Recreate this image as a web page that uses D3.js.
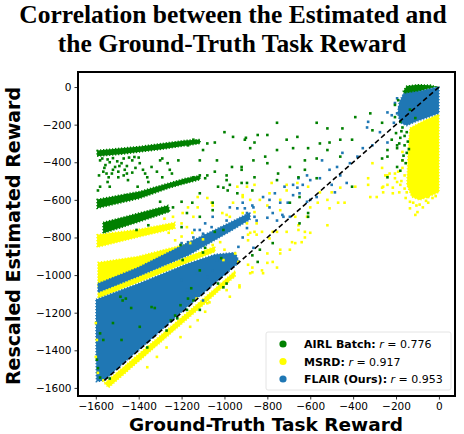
<!DOCTYPE html>
<html>
<head>
<meta charset="utf-8">
<script src="https://cdn.jsdelivr.net/npm/d3@7"></script>
<style>
  body { margin: 0; background: #fff; }
  svg { display: block; }
  .tick text { font-family: "DejaVu Sans", sans-serif; font-size: 10.5px; fill: #000; }
</style>
</head>
<body>
<svg id="chart" width="464" height="434"></svg>
<script>
// ---- data (ground-truth reward, rescaled estimated reward) ----
var seriesNames = ['AIRL Batch', 'MSRD', 'FLAIR (Ours)'];
var rValues = ['0.776', '0.917', '0.953'];
var xTicks = [-1600, -1400, -1200, -1000, -800, -600, -400, -200, 0];
var yTicks = [0, -200, -400, -600, -800, -1000, -1200, -1400, -1600];
var refLine = [[-1560, -1560], [0, 0]];

// outlines of the regions where points are packed solid
var airlDense = [
  [[-1594,-337],[-1394,-316],[-1184,-284],[-1114,-279],[-1114,-300],[-1301,-332],[-1487,-358],[-1594,-368]],
  [[-1594,-598],[-1394,-555],[-1184,-486],[-1114,-470],[-1114,-492],[-1254,-535],[-1394,-592],[-1594,-645]],
  [[-1566,-720],[-1441,-683],[-1263,-630],[-1254,-662],[-1394,-715],[-1566,-778]],
  [[-168,-25],[-150,5],[-100,12],[-40,10],[-15,2],[-60,-12],[-150,-45]]
];
var msrdDense = [
  [[-135,-218],[-65,-176],[0,-144],[0,-559],[-42,-580],[-89,-601],[-126,-585],[-149,-521],[-145,-388],[-140,-282]],
  [[-1594,-785],[-1400,-757],[-1231,-720],[-1231,-752],[-1400,-797],[-1594,-852]],
  [[-1590,-933],[-1403,-901],[-1277,-864],[-1184,-837],[-1184,-876],[-1249,-933],[-1403,-987],[-1590,-1066]],
  [[-1590,-1093],[-1403,-1007],[-1170,-901],[-1044,-848],[-1044,-876],[-1170,-933],[-1403,-1040],[-1590,-1125]],
  [[-1560,-1575],[-1300,-1322],[-1100,-1127],[-950,-977],[-950,-1005],[-1100,-1160],[-1300,-1360],[-1540,-1598]]
];
var flairDense = [
  [[-1590,-1045],[-1403,-960],[-1170,-827],[-974,-720],[-881,-667],[-881,-705],[-974,-768],[-1170,-896],[-1403,-1007],[-1590,-1092]],
  [[-1599,-1130],[-1403,-1046],[-1170,-939],[-1044,-890],[-951,-880],[-930,-931],[-1044,-1043],[-1170,-1165],[-1347,-1346],[-1487,-1484],[-1561,-1562],[-1597,-1566],[-1599,-1346]],
  [[-165,-35],[-89,-22],[-19,-3],[0,0],[0,-140],[-60,-165],[-110,-185],[-150,-205],[-180,-190],[-192,-140],[-185,-80]]
];

// scattered points
var airlPoints = [
  [-755,-190],[-570,-190],[-520,-220],[-450,-220],[-320,-140],[-390,-160],[-900,-270],[-845,-255],[-800,-255],
  [-710,-280],[-660,-265],[-610,-325],[-555,-300],[-510,-295],[-460,-280],[-405,-280],[-880,-325],[-810,-370],
  [-755,-335],[-680,-325],[-625,-390],[-570,-380],[-520,-335],[-310,-230],[-265,-190],[-240,-335],[-195,-310],
  [-920,-425],[-865,-390],[-800,-405],[-750,-460],[-695,-425],[-625,-440],[-570,-485],[-460,-370],[-405,-530],
  [-695,-615],[-650,-585],[-610,-690],[-650,-725],[-920,-510],[-860,-480],[-755,-495],
  [-205,-160],[-180,-185],[-170,-215],[-180,-270],[-160,-310],[-195,-325],[-240,-370],[-265,-380],[-220,-280],
  [-150,-240],[-150,-350],[-170,-390],[-195,-425],[-240,-480],[-190,-70],[-205,-95],[-135,-120],[-110,-165],
  [-160,-260],[-145,-290],[-175,-235],[-140,-330],[-165,-365],[-185,-300],[-200,-245],[-155,-405],[-180,-445],
  [-1000,-240],[-1045,-295],[-1080,-300],[-1145,-280],[-1170,-310],[-1100,-335],[-960,-265],[-905,-280],[-860,-295],
  [-965,-425],[-920,-440],[-1035,-390],[-1115,-390],[-1215,-390],[-1255,-440],[-1300,-390],[-1380,-440],[-1360,-480],
  [-1455,-460],[-1495,-450],[-1550,-460],[-1580,-530],[-1590,-550],[-1535,-530],[-1405,-530],[-1005,-535],[-940,-565],
  [-870,-550],[-990,-495],[-1145,-480],[-1080,-470],[-1300,-610],[-1240,-640],[-1175,-670],[-1055,-655],[-1115,-690],
  [-1355,-735],[-1410,-760],
  [-1580,-390],[-1555,-415],[-1535,-400],[-1510,-425],[-1480,-405],[-1465,-440],[-1430,-390],[-1495,-480],[-1525,-460],
  [-1415,-430],[-1395,-405],[-1450,-495],[-1370,-460],[-1340,-425],[-1315,-450],[-1290,-380],[-1265,-405],[-1355,-505],
  [-1545,-505],[-1565,-450],[-1290,-480],[-1245,-460],[-1570,-380],[-1545,-385],[-1520,-378],[-1500,-395],[-1470,-380],
  [-1445,-375],[-1420,-372],[-1560,-430],[-1520,-440],[-1490,-420],[-1455,-420],[-1430,-455],[-1400,-375],[-1585,-470],
  [-1540,-480],[-1470,-470],[-1585,-610],[-1560,-625],[-1520,-610],[-1500,-590],[-1460,-575],
  [-1475,-1135],[-1340,-1170],[-1175,-1185],[-1145,-1135],[-1580,-1310],[-1565,-1345],[-1520,-1255],[-1480,-1345],
  [-1395,-1275],[-1595,-1450],[-1590,-1495],[-1580,-1545],[-1535,-1550],[-1360,-1385],[-1270,-1295],[-1220,-1230],
  [-1115,-1185],[-1485,-1115],[-1460,-1125],[-1435,-1175],[-1325,-1175],[-1205,-1160],[-1170,-1125],[-1205,-840],
  [-1090,-855],[-1015,-910],[-1155,-1070],[-1230,-1215],[-1250,-1240],
  [-1195,-505],[-1115,-470],[-1090,-485],[-1045,-450],[-990,-470],[-1030,-530],[-975,-520],[-895,-510],[-1200,-610],
  [-1150,-615],[-1115,-565],[-1055,-615],[-985,-550],[-1200,-745],[-1100,-880],[-1045,-770],[-1005,-760],[-870,-895],
  [-835,-865],[-775,-830],[-845,-930],[-1030,-1045],[-1005,-1065],[-990,-1045],[-1115,-975],[-1195,-920],[-610,-670],
  [-655,-480]
];
var msrdPoints = [
  [-895,-530],[-860,-520],[-915,-585],[-780,-510],[-710,-520],[-610,-530],[-555,-560],[-500,-560],[-460,-535],
  [-390,-530],[-330,-520],[-320,-585],[-330,-485],[-240,-470],[-205,-460],[-260,-530],[-215,-565],[-600,-640],
  [-565,-615],[-520,-600],[-470,-615],[-440,-615],[-510,-645],[-670,-690],[-615,-690],[-655,-735],[-625,-770],
  [-520,-735],[-850,-725],[-825,-770],[-860,-665],[-880,-600],[-800,-630],[-740,-655],[-775,-770],[-710,-770],
  [-890,-785],[-860,-770],[-800,-935],[-870,-985],[-890,-945],[-820,-990],[-755,-960],[-740,-885],[-695,-865],
  [-670,-830],[-640,-825],[-600,-775],[-930,-1065],[-775,-930],
  [-310,-405],[-265,-430],[-250,-470],[-230,-460],[-205,-485],[-190,-450],[-170,-430],[-265,-535],[-240,-520],
  [-215,-535],[-195,-505],[-180,-520],[-150,-560],[-170,-390],[-170,-345],[-135,-610],[-105,-630],[-135,-645],
  [-110,-680],[-100,-665],[-75,-640],[-50,-615],[-30,-590],[-50,-585],[-290,-585],[-260,-560],
  [-160,-470],[-175,-500],[-160,-540],[-185,-560],[-155,-590],[-120,-615],[-90,-625],[-60,-605],[-15,-580],
  [-1200,-725],[-1195,-670],[-1170,-640],[-1125,-585],[-1080,-590],[-1055,-630],[-960,-615],[-915,-575],[-835,-600],
  [-790,-565],[-740,-600],[-710,-550],[-660,-510],[-1010,-670],[-975,-690],[-915,-670],[-880,-775],[-890,-815],
  [-850,-785],[-790,-805],[-755,-770],[-1020,-825],[-1055,-840],[-1000,-865],[-950,-885],[-1005,-920],[-935,-930],
  [-870,-960],[-880,-990],[-825,-975],[-960,-1010],[-930,-1055],[-990,-1080],[-1060,-1105],[-975,-1115],[-1070,-1145],
  [-1130,-1125],[-800,-885],[-740,-865],[-685,-825],[-625,-800],[-655,-760],
  [-1260,-775],[-1200,-795],[-1150,-775],[-1100,-810],[-1160,-830],[-1230,-815],[-1280,-700],[-1240,-690],
  [-1600,-1255],[-1595,-1345],[-1600,-1435],[-1590,-1520],[-1565,-1560],[-1270,-1385],[-1315,-1435],[-1360,-1490],
  [-1205,-1330],[-1160,-1275],[-1125,-1240],[-1115,-1160],[-1080,-1150],[-1090,-1195],
  [-940,-530],[-1125,-640],[-1145,-690],[-1175,-745],[-895,-725],[-1060,-615],[-990,-680]
];
var flairPoints = [
  [-330,-185],[-335,-215],[-275,-240],[-240,-295],[-310,-310],[-355,-325],[-380,-370],[-415,-405],[-450,-350],
  [-475,-425],[-510,-440],[-460,-470],[-545,-390],[-555,-485],[-615,-470],[-600,-495],[-655,-485],[-680,-520],
  [-720,-530],[-765,-565],[-790,-600],[-820,-585],[-865,-640],[-905,-645],[-915,-710],[-860,-690],[-755,-710],
  [-730,-680],[-695,-690],[-600,-600],[-570,-585],[-485,-560],[-500,-520],[-430,-510],[-195,-140],[-205,-85],
  [-195,-60],[-220,-150],[-240,-135],[-185,-110],[-180,-160],[-210,-190],
  [-1200,-830],[-1170,-825],[-1130,-850],[-1145,-800],[-1115,-760],[-1090,-725],[-1055,-690],[-990,-710],[-975,-640],
  [-940,-645],[-915,-615],[-895,-670],[-870,-630],[-850,-710],[-800,-695],[-790,-640],[-775,-670],[-740,-615],
  [-725,-690],[-705,-615],[-680,-575],[-660,-535],[-650,-565],[-635,-520],[-615,-610],[-915,-800],[-895,-750],
  [-935,-850],[-865,-855],[-1035,-920],[-990,-895],[-1175,-960],[-1130,-990],[-1080,-1010],[-1055,-975],[-1115,-1055],
  [-1145,-1115],[-1175,-1080],[-1100,-1135],[-1200,-1025],[-1140,-760],[-1100,-780],[-1060,-745]
];

// ---- chart ----
var svg = d3.select('#chart');
var x = d3.scaleLinear().domain([-1683, 75]).range([78, 455]);
var y = d3.scaleLinear().domain([80, -1643]).range([72, 396]);
var colors = ['green', 'yellow', '#1f77b4'];

svg.append('defs').append('clipPath').attr('id', 'plotclip')
  .append('rect').attr('x', 78).attr('y', 72).attr('width', 377).attr('height', 324);

var plot = svg.append('g').attr('clip-path', 'url(#plotclip)');
var area = d3.line().x(function (d) { return x(d[0]); }).y(function (d) { return y(d[1]); })
  .curve(d3.curveLinearClosed);

function drawDense(polys, color) {
  plot.append('g').selectAll('path')
    .data(polys).enter().append('path')
    .attr('d', area)
    .style('fill', color)
    .style('stroke', color)
    .style('stroke-width', 1.6)
    .style('stroke-dasharray', '1.2 1.8');
}
function drawPoints(pts, color) {
  plot.append('g').selectAll('rect')
    .data(pts).enter().append('rect')
    .attr('x', function (d) { return x(d[0]) - 1.3; })
    .attr('y', function (d) { return y(d[1]) - 1.3; })
    .attr('width', 2.6).attr('height', 2.6)
    .style('fill', color);
}

drawDense(msrdDense, colors[1]);
drawDense(airlDense, colors[0]);
drawDense(flairDense, colors[2]);
drawPoints(msrdPoints, colors[1]);
drawPoints(flairPoints, colors[2]);
drawPoints(airlPoints, colors[0]);

// y = x reference
plot.append('path')
  .attr('d', d3.line().x(function (d) { return x(d[0]); }).y(function (d) { return y(d[1]); })(refLine))
  .style('fill', 'none').style('stroke', '#000').style('stroke-width', 1.6)
  .style('stroke-dasharray', '5 3');

// axes
var xAxis = svg.append('g').attr('transform', 'translate(0,396)')
  .call(d3.axisBottom(x).tickValues(xTicks).tickSize(3.5).tickPadding(3).tickFormat(d3.format('d')));
var yAxis = svg.append('g').attr('transform', 'translate(78,0)')
  .call(d3.axisLeft(y).tickValues(yTicks).tickSize(3.5).tickPadding(3).tickFormat(d3.format('d')));
xAxis.select('.domain').remove();
yAxis.select('.domain').remove();
svg.selectAll('.tick line').style('stroke', '#000').style('stroke-width', 0.8);
svg.selectAll('.tick text').text(function (d) { return d < 0 ? '\u2212' + Math.abs(d) : d; });

svg.append('rect').attr('x', 78).attr('y', 72).attr('width', 377).attr('height', 324)
  .style('fill', 'none').style('stroke', '#000').style('stroke-width', 2);

// legend
var leg = svg.append('g').attr('transform', 'translate(266,332)');
leg.append('rect').attr('width', 185).attr('height', 58).attr('rx', 2)
  .style('fill', '#fff').style('fill-opacity', 0.85).style('stroke', '#ddd').style('stroke-width', 0.8);
seriesNames.forEach(function (name, i) {
  var row = leg.append('g').attr('transform', 'translate(0,' + (11 + i * 17.5) + ')');
  row.append('circle').attr('cx', 17).attr('cy', 1).attr('r', 3.6).style('fill', colors[i]);
  var t = row.append('text').attr('x', 38).attr('y', 5)
    .style('font-family', '"DejaVu Sans", sans-serif').style('font-size', '11px');
  t.append('tspan').style('font-weight', 'bold').text(name + ':');
  t.append('tspan').text(' ');
  t.append('tspan').style('font-style', 'italic').text('r');
  t.append('tspan').text(' = ' + rValues[i]);
});

// labels
svg.append('text').attr('x', 266).attr('y', 431).attr('text-anchor', 'middle')
  .style('font-family', '"DejaVu Sans", sans-serif').style('font-weight', 'bold').style('font-size', '18.5px')
  .text('Ground-Truth Task Reward');
svg.append('text').attr('transform', 'translate(20,236) rotate(-90)').attr('text-anchor', 'middle')
  .style('font-family', '"DejaVu Sans", sans-serif').style('font-weight', 'bold').style('font-size', '19px')
  .text('Rescaled Estimated Reward');
var title = svg.append('text').attr('text-anchor', 'middle')
  .style('font-family', '"Liberation Serif", "Times New Roman", serif').style('font-weight', 'bold').style('font-size', '25.5px');
title.append('tspan').attr('x', 233).attr('y', 23).text('Correlation between the Estimated and');
title.append('tspan').attr('x', 232).attr('y', 51.5).text('the Ground-Truth Task Reward');
</script>
</body>
</html>
